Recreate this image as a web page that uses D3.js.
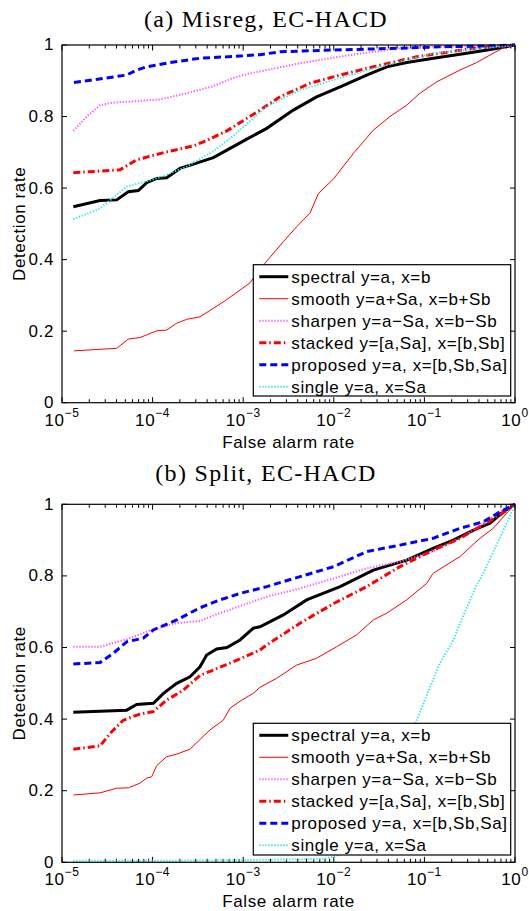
<!DOCTYPE html>
<html lang="en">
<head>
<meta charset="UTF-8">
<title>ROC curves, EC-HACD</title>
<script src="https://d3js.org/d3.v7.min.js"></script>
<style>
    body { margin: 0; background: #fff; }
    text { font-family: "Liberation Sans", Arial, sans-serif; fill: #000; }
    .title { font-family: "Liberation Serif", "Times New Roman", serif; font-size: 24px; letter-spacing: 1.3px; }
    .lbl { font-size: 17px; letter-spacing: 0.6px; }
</style>
</head>
<body>
<script>
// x values are log10(false alarm rate), y values are detection rate

// series names, legend order
var seriesNames = ['spectral y=a, x=b', 'smooth y=a+Sa, x=b+Sb', 'sharpen y=a\u2212Sa, x=b\u2212Sb',
                   'stacked y=[a,Sa], x=[b,Sb]', 'proposed y=a, x=[b,Sb,Sa]', 'single y=a, x=Sa'];

// tick labels
var xTickExps = [-5, -4, -3, -2, -1, 0];
var yTickVals = [0, 0.2, 0.4, 0.6, 0.8, 1];

// (a) Misreg, EC-HACD
var aSpectralX = [-4.875, -4.58, -4.396, -4.268, -4.158, -4.065, -3.955, -3.845, -3.698, -3.55, -3.33, -3.18, -2.96, -2.74, -2.447, -2.19, -1.93, -1.637, -1.416, -1.195, -0.9, -0.533, -0.24, 0];
var aSpectralY = [0.548, 0.565, 0.567, 0.590, 0.593, 0.615, 0.627, 0.629, 0.655, 0.667, 0.685, 0.706, 0.737, 0.767, 0.818, 0.855, 0.883, 0.916, 0.939, 0.951, 0.963, 0.977, 0.989, 1.0];
var aSmoothX = [-4.868, -4.396, -4.268, -4.14, -3.955, -3.845, -3.735, -3.624, -3.477, -3.2, -2.925, -2.76, -2.557, -2.41, -2.263, -2.17, -2.005, -1.784, -1.564, -1.38, -1.195, -1.05, -0.864, -0.607, -0.423, -0.24, -0.092, 0];
var aSmoothY = [0.145, 0.152, 0.178, 0.182, 0.201, 0.203, 0.222, 0.233, 0.240, 0.285, 0.335, 0.390, 0.450, 0.492, 0.530, 0.585, 0.625, 0.697, 0.762, 0.800, 0.832, 0.865, 0.897, 0.930, 0.951, 0.977, 0.997, 1.0];
var aSharpenX = [-4.875, -4.727, -4.58, -4.434, -4.176, -3.918, -3.624, -3.33, -3.11, -2.925, -2.815, -2.373, -1.82, -1.27, -0.905, -0.35, 0];
var aSharpenY = [0.760, 0.800, 0.832, 0.839, 0.843, 0.848, 0.865, 0.885, 0.908, 0.921, 0.926, 0.949, 0.972, 0.991, 0.995, 0.997, 1.0];
var aStackedX = [-4.875, -4.36, -4.176, -3.88, -3.55, -3.403, -3.18, -2.96, -2.833, -2.594, -2.263, -1.93, -1.564, -1.085, -0.533, -0.166, 0];
var aStackedY = [0.643, 0.651, 0.679, 0.699, 0.718, 0.733, 0.760, 0.795, 0.815, 0.855, 0.893, 0.916, 0.939, 0.967, 0.988, 0.997, 1.0];
var aProposedX = [-4.868, -4.286, -4.176, -4.065, -3.81, -3.477, -3.035, -2.815, -2.594, -2.0, -1.27, -0.83, -0.35, 0];
var aProposedY = [0.895, 0.916, 0.930, 0.939, 0.951, 0.963, 0.969, 0.973, 0.981, 0.986, 0.991, 0.995, 0.997, 1.0];
var aSingleX = [-4.875, -4.58, -4.286, -3.918, -3.624, -3.33, -3.11, -2.74, -2.373, -1.895, -1.416, -0.9, -0.35, 0];
var aSingleY = [0.513, 0.543, 0.604, 0.630, 0.660, 0.703, 0.746, 0.828, 0.874, 0.911, 0.944, 0.977, 0.991, 1.0];

// (b) Split, EC-HACD
var bSpectralX = [-4.875, -4.286, -4.176, -3.992, -3.88, -3.734, -3.587, -3.477, -3.403, -3.293, -3.18, -3.035, -2.888, -2.815, -2.557, -2.3, -1.93, -1.564, -1.195, -0.905, -0.68, -0.46, -0.276, -0.13, 0];
var bSpectralY = [0.419, 0.425, 0.441, 0.444, 0.472, 0.500, 0.518, 0.546, 0.579, 0.596, 0.600, 0.621, 0.654, 0.658, 0.691, 0.733, 0.770, 0.816, 0.844, 0.877, 0.900, 0.928, 0.947, 0.979, 1.0];
var bSmoothX = [-4.875, -4.58, -4.396, -4.268, -4.14, -4.065, -4.01, -3.955, -3.845, -3.735, -3.587, -3.477, -3.366, -3.22, -3.146, -3.035, -2.888, -2.815, -2.63, -2.41, -2.19, -1.97, -1.75, -1.564, -1.416, -1.195, -0.974, -0.905, -0.607, -0.387, -0.24, -0.092, 0];
var bSmoothY = [0.188, 0.194, 0.207, 0.208, 0.221, 0.235, 0.239, 0.270, 0.295, 0.302, 0.316, 0.343, 0.370, 0.397, 0.430, 0.450, 0.472, 0.489, 0.514, 0.551, 0.570, 0.602, 0.635, 0.677, 0.696, 0.733, 0.779, 0.807, 0.854, 0.905, 0.933, 0.975, 1.0];
var bSharpenX = [-4.875, -4.58, -4.286, -3.992, -3.734, -3.477, -3.293, -3.11, -2.74, -2.373, -2.0, -1.637, -1.27, -0.905, -0.607, -0.35, -0.166, 0];
var bSharpenY = [0.602, 0.602, 0.623, 0.651, 0.668, 0.674, 0.693, 0.709, 0.742, 0.765, 0.793, 0.821, 0.840, 0.868, 0.905, 0.947, 0.979, 1.0];
var bStackedX = [-4.875, -4.58, -4.47, -4.323, -4.14, -3.992, -3.845, -3.66, -3.477, -3.33, -3.11, -2.815, -2.74, -2.373, -2.0, -1.637, -1.27, -0.905, -0.607, -0.387, -0.166, 0];
var bStackedY = [0.316, 0.325, 0.360, 0.397, 0.414, 0.421, 0.453, 0.481, 0.522, 0.537, 0.560, 0.593, 0.607, 0.668, 0.723, 0.770, 0.826, 0.872, 0.905, 0.937, 0.970, 1.0];
var bProposedX = [-4.875, -4.58, -4.434, -4.286, -4.103, -3.992, -3.734, -3.477, -3.256, -3.035, -2.74, -2.373, -2.0, -1.637, -1.27, -0.905, -0.607, -0.35, -0.166, 0];
var bProposedY = [0.554, 0.558, 0.584, 0.616, 0.626, 0.649, 0.677, 0.711, 0.733, 0.751, 0.770, 0.798, 0.826, 0.868, 0.886, 0.905, 0.933, 0.951, 0.979, 1.0];
var bSingleX = [-4.875, -4.0, -3.0, -2.1, -1.8, -1.6, -1.4, -1.2, -1.085, -0.83, -0.68, -0.607, -0.423, -0.35, -0.092, 0];
var bSingleY = [0.004, 0.004, 0.006, 0.010, 0.030, 0.100, 0.210, 0.330, 0.397, 0.556, 0.621, 0.668, 0.775, 0.807, 0.947, 1.0];

// line styles, legend order
var styles = [
    { color: '#000000', width: 3,   dash: null },
    { color: '#ff0000', width: 1,   dash: null },
    { color: '#ff55ff', width: 2,   dash: '1.3,1.7' },
    { color: '#ff0000', width: 3,   dash: '7,3,1.5,3' },
    { color: '#0000ff', width: 3,   dash: '7,4' },
    { color: '#33e6e6', width: 2,   dash: '1.3,1.7' }
];

var W = 529, H = 911;
var svg = d3.select('body').append('svg')
    .attr('width', W)
    .attr('height', H);

var left = 62, right = 515;

function drawPanel(id, title, titleY, top, bottom, xs, ys, leg) {
    var xScale = d3.scaleLog().domain([1e-5, 1]).range([left, right]);
    var yScale = d3.scaleLinear().domain([0, 1]).range([bottom, top]);
    var g = svg.append('g');

    svg.append('text')
        .attr('class', 'title')
        .attr('x', 266)
        .attr('y', titleY)
        .attr('text-anchor', 'middle')
        .text(title);

    g.append('clipPath').attr('id', 'clip' + id)
        .append('rect')
        .attr('x', left).attr('y', top - 2)
        .attr('width', right - left).attr('height', bottom - top + 2);

    // ticks: minor and major on bottom and top
    var minor = [];
    for (var e = -5; e < 0; e++) {
        for (var m = 2; m <= 9; m++) minor.push(m * Math.pow(10, e));
    }
    var major = xTickExps.map(function (e) { return Math.pow(10, e); });

    var tickG = g.append('g').attr('stroke', '#000').attr('stroke-width', 1);
    minor.forEach(function (v) {
        var x = xScale(v);
        tickG.append('line').attr('x1', x).attr('x2', x).attr('y1', bottom).attr('y2', bottom - 3.5);
        tickG.append('line').attr('x1', x).attr('x2', x).attr('y1', top).attr('y2', top + 3.5);
    });
    major.forEach(function (v) {
        var x = xScale(v);
        tickG.append('line').attr('x1', x).attr('x2', x).attr('y1', bottom).attr('y2', bottom - 5.5);
        tickG.append('line').attr('x1', x).attr('x2', x).attr('y1', top).attr('y2', top + 5.5);
    });
    yTickVals.forEach(function (v) {
        var y = yScale(v);
        tickG.append('line').attr('x1', left).attr('x2', left + 5).attr('y1', y).attr('y2', y);
        tickG.append('line').attr('x1', right).attr('x2', right - 5).attr('y1', y).attr('y2', y);
    });

    // tick labels
    yTickVals.forEach(function (v) {
        g.append('text')
            .attr('class', 'lbl')
            .attr('x', 54)
            .attr('y', yScale(v))
            .attr('dy', '0.32em')
            .attr('text-anchor', 'end')
            .text(d3.format('')(v));
    });
    xTickExps.forEach(function (e) {
        var t = g.append('text')
            .attr('class', 'lbl')
            .attr('x', xScale(Math.pow(10, e)))
            .attr('y', bottom + 23)
            .attr('text-anchor', 'middle');
        t.append('tspan').text('10');
        t.append('tspan')
            .attr('dy', -9)
            .style('font-size', '12px')
            .text(e < 0 ? '\u2212' + (-e) : String(e));
    });

    // axis titles
    g.append('text')
        .attr('class', 'lbl')
        .attr('x', (left + right) / 2)
        .attr('y', bottom + 45)
        .attr('text-anchor', 'middle')
        .text('False alarm rate');
    g.append('text')
        .attr('class', 'lbl')
        .attr('transform', 'translate(25,' + ((top + bottom) / 2) + ') rotate(-90)')
        .attr('text-anchor', 'middle')
        .text('Detection rate');

    // curves
    var line = d3.line()
        .x(function (d) { return xScale(Math.pow(10, d[0])); })
        .y(function (d) { return yScale(d[1]); });

    var curveG = g.append('g').attr('clip-path', 'url(#clip' + id + ')');
    xs.forEach(function (xv, i) {
        var pts = xv.map(function (x, k) { return [x, ys[i][k]]; });
        curveG.append('path')
            .datum(pts)
            .attr('d', line)
            .attr('fill', 'none')
            .attr('stroke', styles[i].color)
            .attr('stroke-width', styles[i].width)
            .attr('stroke-dasharray', styles[i].dash);
    });

    // box
    g.append('rect')
        .attr('x', left).attr('y', top)
        .attr('width', right - left).attr('height', bottom - top)
        .attr('fill', 'none')
        .attr('stroke', '#000')
        .attr('stroke-width', 1.2);

    // legend
    var lg = g.append('g');
    lg.append('rect')
        .attr('x', leg.x).attr('y', leg.y)
        .attr('width', leg.w).attr('height', leg.h)
        .attr('fill', '#fff')
        .attr('stroke', '#000')
        .attr('stroke-width', 1.2);
    seriesNames.forEach(function (name, i) {
        var cy = leg.y + 12 + i * 22;
        lg.append('line')
            .attr('x1', leg.x + 6).attr('x2', leg.x + 35)
            .attr('y1', cy).attr('y2', cy)
            .attr('stroke', styles[i].color)
            .attr('stroke-width', styles[i].width)
            .attr('stroke-dasharray', styles[i].dash);
        lg.append('text')
            .attr('class', 'lbl')
            .attr('x', leg.x + 38)
            .attr('y', cy)
            .attr('dy', '0.36em')
            .text(name);
    });
}

drawPanel('a', '(a) Misreg, EC-HACD', 27, 45, 402.7,
    [aSpectralX, aSmoothX, aSharpenX, aStackedX, aProposedX, aSingleX],
    [aSpectralY, aSmoothY, aSharpenY, aStackedY, aProposedY, aSingleY],
    { x: 253.3, y: 264.7, w: 257.4, h: 131.3 });

drawPanel('b', '(b) Split, EC-HACD', 481, 504.3, 862.3,
    [bSpectralX, bSmoothX, bSharpenX, bStackedX, bProposedX, bSingleX],
    [bSpectralY, bSmoothY, bSharpenY, bStackedY, bProposedY, bSingleY],
    { x: 253.3, y: 723.3, w: 257.4, h: 131.7 });
</script>
</body>
</html>
